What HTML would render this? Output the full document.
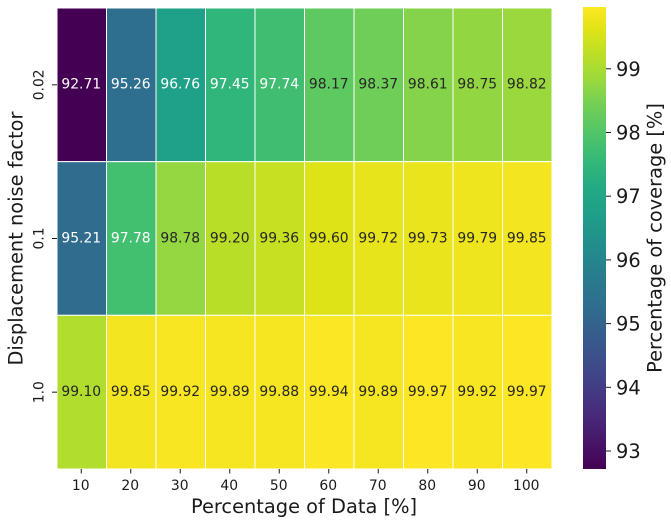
<!DOCTYPE html>
<html>
<head>
<meta charset="utf-8">
<style>
html,body{margin:0;padding:0;background:#fff;width:671px;height:524px;overflow:hidden}
svg{display:block}
text{font-family:"DejaVu Sans","Liberation Sans",sans-serif;fill:#1a1a1a}
</style>
</head>
<body>
<svg id="chart" xmlns="http://www.w3.org/2000/svg" width="671" height="524" viewBox="0 0 671 524">
  <defs>
    <linearGradient id="viridis-gradient" x1="0" y1="1" x2="0" y2="0"></linearGradient>
  </defs>
  <g id="cells"></g>
  <g id="xaxis"></g>
  <g id="yaxis"></g>
  <text x="304" y="513" text-anchor="middle" font-size="19.4">Percentage of Data [%]</text>
  <text transform="translate(22.5 238.5) rotate(-90)" text-anchor="middle" font-size="19.4">Displacement noise factor</text>
  <rect x="583" y="7" width="23" height="462" fill="url(#viridis-gradient)"></rect>
  <g id="cbar"></g>
  <text transform="translate(661.5 238) rotate(-90)" text-anchor="middle" font-size="19.4">Percentage of coverage [%]</text>
</svg>
<script>
const percentages = ["10","20","30","40","50","60","70","80","90","100"];
const noiseFactors = ["0.02","0.1","1.0"];
const coverageLow = [92.71,95.26,96.76,97.45,97.74,98.17,98.37,98.61,98.75,98.82];
const coverageMid = [95.21,97.78,98.78,99.20,99.36,99.60,99.72,99.73,99.79,99.85];
const coverageHigh = [99.10,99.85,99.92,99.89,99.88,99.94,99.89,99.97,99.92,99.97];
const coverageRows = [coverageLow,coverageMid,coverageHigh];
const colorbarTicks = [93,94,95,96,97,98,99];

const NS = "http://www.w3.org/2000/svg";
const plot = {left:57,right:552,top:8,bottom:469};
const cbarBox = {top:7,bottom:469.5,right:606};
const viridisStops = ["#440154","#471365","#482475","#463480","#414487","#3b528b","#355f8d","#2e6e8e","#2a788e","#25858e","#21918c","#1f9e89","#22a884","#2fb47c","#44bf70","#5ec962","#7ad151","#a0da39","#bddf26","#dfe318","#fde725"];

const allValues = coverageRows.flat();
const vMin = Math.min.apply(null, allValues);
const vMax = Math.max.apply(null, allValues);

function xBand(i){ return plot.left + i * (plot.right - plot.left) / percentages.length; }
function yBand(i){ return plot.top + i * (plot.bottom - plot.top) / noiseFactors.length; }
function cbarY(v){ return cbarBox.bottom - (v - vMin) / (vMax - vMin) * (cbarBox.bottom - cbarBox.top); }
function hexToRgb(h){ return [1,3,5].map(function(p){ return parseInt(h.substr(p,2),16); }); }
function viridisRgb(t){
  t = Math.max(0, Math.min(1, t));
  const p = t * (viridisStops.length - 1);
  const i = Math.min(Math.floor(p), viridisStops.length - 2);
  const a = hexToRgb(viridisStops[i]);
  const b = hexToRgb(viridisStops[i + 1]);
  return a.map(function(c, k){ return Math.round(c + (b[k] - c) * (p - i)); });
}
function relativeLuminance(rgb){
  const lin = rgb.map(function(c){
    const s = c / 255;
    return s <= 0.03928 ? s / 12.92 : Math.pow((s + 0.055) / 1.055, 2.4);
  });
  return 0.2126 * lin[0] + 0.7152 * lin[1] + 0.0722 * lin[2];
}
function make(tag, attrs, parent, txt){
  const el = document.createElementNS(NS, tag);
  Object.keys(attrs).forEach(function(k){ el.setAttribute(k, attrs[k]); });
  if (txt !== undefined) el.textContent = txt;
  parent.appendChild(el);
  return el;
}

const grad = document.getElementById("viridis-gradient");
viridisStops.forEach(function(c, i){
  make("stop", {offset: i / (viridisStops.length - 1), "stop-color": c}, grad);
});

const cellsG = document.getElementById("cells");
const xG = document.getElementById("xaxis");
const yG = document.getElementById("yaxis");
const cbarG = document.getElementById("cbar");

coverageRows.forEach(function(row, r){
  row.forEach(function(v, c){
    const rgb = viridisRgb((v - vMin) / (vMax - vMin));
    const x0 = xBand(c), x1 = xBand(c + 1), y0 = yBand(r), y1 = yBand(r + 1);
    const rect = make("rect", {x:x0, y:y0, width:x1 - x0, height:y1 - y0, fill:"rgb(" + rgb.join(",") + ")", stroke:"#fff", "stroke-width":1}, cellsG);
    
    
    const label = make("text", {x:(x0 + x1) / 2 - 0.5, y:(y0 + y1) / 2 + 3.8, "text-anchor":"middle", "font-size":13.9}, cellsG, v.toFixed(2));
    label.style.fill = relativeLuminance(rgb) > 0.408 ? "#262626" : "#ffffff";
    
    
  });
});

percentages.forEach(function(p, i){
  const x = (xBand(i) + xBand(i + 1)) / 2 - 0.5;
  const tick = make("line", {x1:x, x2:x, y1:plot.bottom, y2:plot.bottom + 4.5, stroke:"#1a1a1a", "stroke-width":1}, xG);
  
  
  const label = make("text", {x:x - 0.5, y:490, "text-anchor":"middle", "font-size":13.9}, xG, p);
  
  
});

noiseFactors.forEach(function(n, i){
  const y = (yBand(i) + yBand(i + 1)) / 2;
  const tick = make("line", {x1:plot.left - 5, x2:plot.left, y1:y, y2:y, stroke:"#1a1a1a", "stroke-width":1}, yG);
  
  
  const label = make("text", {transform:"translate(43.5 " + y + ") rotate(-90)", "text-anchor":"middle", "font-size":13.9}, yG, n);
  
  
});

colorbarTicks.forEach(function(t){
  const y = cbarY(t);
  const tick = make("line", {x1:cbarBox.right, x2:cbarBox.right + 5, y1:y, y2:y, stroke:"#1a1a1a", "stroke-width":1}, cbarG);
  
  
  const label = make("text", {x:616, y:y + 7, "font-size":19.4}, cbarG, String(t));
  
  
});
</script>
</body>
</html>
